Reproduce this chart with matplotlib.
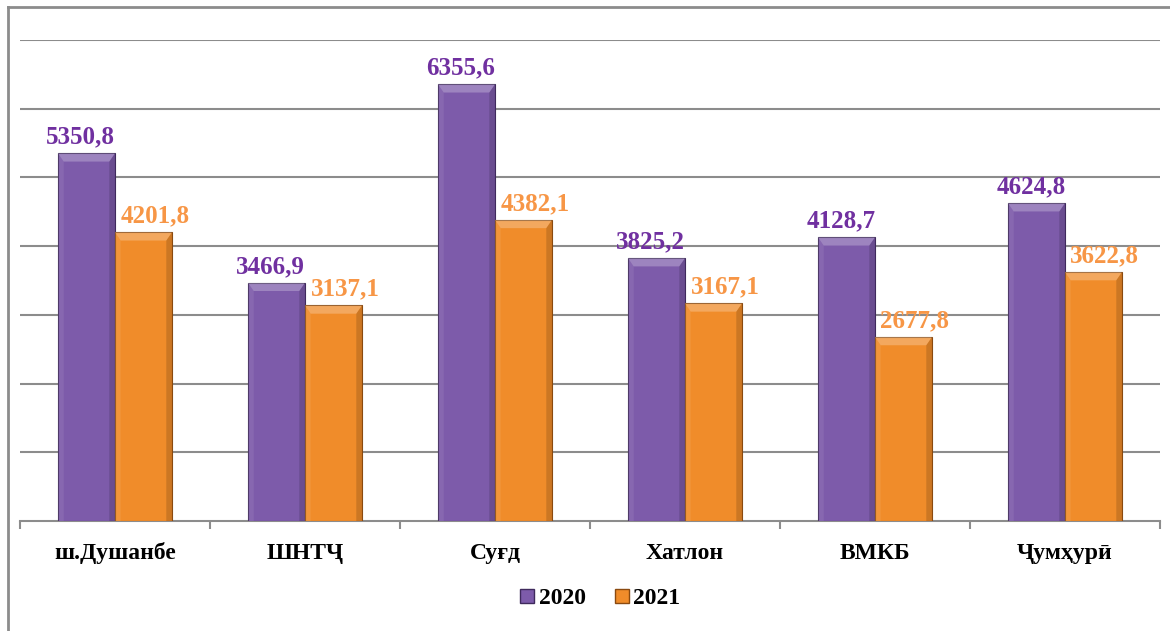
import matplotlib
matplotlib.use("Agg")
import matplotlib.pyplot as plt
import numpy as np
from matplotlib.patches import Polygon
from matplotlib.lines import Line2D

categories = ["ш.Душанбе", "ШНТҶ", "Суғд", "Хатлон", "ВМКБ", "Ҷумҳурӣ"]
series_names = ["2020", "2021"]
values_2020 = [5350.8, 3466.9, 6355.6, 3825.2, 4128.7, 4624.8]
values_2021 = [4201.8, 3137.1, 4382.1, 3167.1, 2677.8, 3622.8]

plt.rcParams['font.family'] = ['Liberation Serif', 'DejaVu Serif']

W, H = 1170, 631
fig = plt.figure(figsize=(W/100, H/100), dpi=100)
ax = fig.add_axes([20/W, 110/H, 1140/W, 481/H])

x = np.arange(len(categories))
bw = 0.3
face = ["#7D5BAA", "#F08C2A"]
edge = ["#3F2A5C", "#8A4A10"]
lab_col = ["#7030A0", "#F79646"]
lab_dx = [-0.03, 0.06]

for k, vals in enumerate([values_2020, values_2021]):
    bars = ax.bar(x + (k - 0.5) * bw, vals, bw, color=face[k], edgecolor=edge[k],
                  linewidth=0.8, zorder=3, label=series_names[k])
    for b, v in zip(bars, vals):
        x0, y0 = b.get_x(), b.get_y()
        w, h = b.get_width(), b.get_height()
        d = 0.03
        dy = 120
        top = Polygon([[x0, y0+h], [x0+w, y0+h], [x0+w-d, y0+h-dy], [x0+d, y0+h-dy]],
                      closed=True, facecolor="white", alpha=0.25, edgecolor="none", zorder=4)
        ax.add_patch(top)
        left = Polygon([[x0, y0+h], [x0+d, y0+h-dy], [x0+d, y0], [x0, y0]],
                       closed=True, facecolor="white", alpha=0.08, edgecolor="none", zorder=4)
        ax.add_patch(left)
        right = Polygon([[x0+w, y0+h], [x0+w-d, y0+h-dy], [x0+w-d, y0], [x0+w, y0]],
                        closed=True, facecolor="black", alpha=0.15, edgecolor="none", zorder=4)
        ax.add_patch(right)
        ax.text(b.get_x() + w/2 + lab_dx[k], v + 70, f"{v:.1f}".replace(".", ","),
                ha="center", va="bottom", fontsize=18, fontweight="bold",
                color=lab_col[k], zorder=5)

ax.set_xlim(-0.5, len(categories) - 0.5)
ax.set_ylim(0, 7000)
ax.set_yticks(np.arange(1000, 7001, 1000))
ax.yaxis.grid(True, color="#8C8C8C", linewidth=1.5, zorder=0)
ax.tick_params(axis="y", left=False, labelleft=False)
for s in ["left", "right", "top"]:
    ax.spines[s].set_visible(False)
ax.spines["bottom"].set_color("#8C8C8C")
ax.spines["bottom"].set_linewidth(1.5)

ax.set_xticks(np.arange(-0.5, len(categories)))
ax.set_xticklabels([])
ax.tick_params(axis="x", length=6, color="#8C8C8C", width=1.5)
for i, c in enumerate(categories):
    ax.text(i, -470, c, ha="center", va="center", fontsize=17, fontweight="bold", color="black")

handles = [Line2D([], [], marker="s", linestyle="none", markersize=10,
                  markerfacecolor=face[k], markeredgecolor=edge[k]) for k in range(2)]
fig.legend(handles, series_names, loc="center", bbox_to_anchor=(598/W, 1 - 598/H),
           ncol=2, frameon=False, prop={"weight": "bold", "size": 17},
           handletextpad=0.0, columnspacing=1.0, handlelength=1.0)

fig.add_artist(Line2D([8/W, 8/W], [0, 1 - 7/H], color="#8C8C8C", linewidth=2))
fig.add_artist(Line2D([8/W, 1], [1 - 7/H, 1 - 7/H], color="#8C8C8C", linewidth=2))

fig.savefig("out.png", dpi=100)
